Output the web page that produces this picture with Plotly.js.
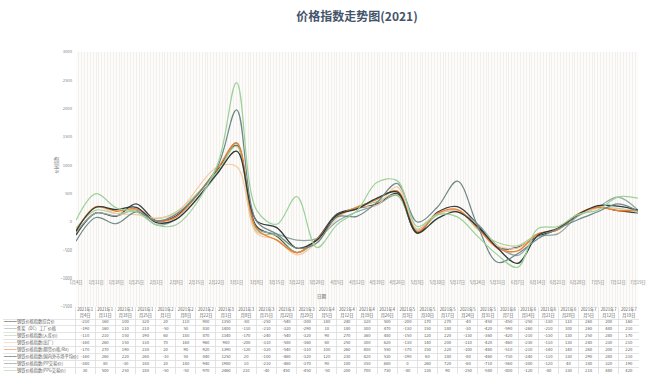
<!DOCTYPE html>
<html><head><meta charset="utf-8">
<script src="https://cdn.plot.ly/plotly-3.0.1.min.js"></script>
<style>html,body{margin:0;padding:0;background:#fff}#chart{width:650px;height:391px}</style>
</head><body><div id="chart"></div>
<script>
// ---------- data ----------
const dates = ['2021-01-04','2021-01-11','2021-01-18','2021-01-25','2021-02-01','2021-02-08','2021-02-22','2021-03-01','2021-03-08','2021-03-15','2021-03-22','2021-03-29','2021-04-05','2021-04-12','2021-04-19','2021-04-26','2021-05-03','2021-05-10','2021-05-17','2021-05-24','2021-05-31','2021-06-07','2021-06-14','2021-06-21','2021-06-28','2021-07-05','2021-07-12','2021-07-19'];
const seriesNames = ['钢铁价格指数综合价','焦炭（DC）工厂价格','钢铁价格指数(入库价)','钢铁价格指数(出厂)','钢铁价格指数(期货价格/Ru)','钢铁价格指数(国内外市场平均价)','钢铁价格指数(PP交易价)','钢铁价格指数(PPG交易价)'];
const s1 = [-230,160,100,320,20,110,900,1350,-80,-250,-540,-300,140,240,320,500,-200,170,270,-40,-450,-450,-250,-130,110,260,200,160];
const s2 = [-190,160,110,210,-50,50,830,1400,-110,-210,-320,-290,10,180,300,470,-130,150,180,-30,-420,-590,-260,-210,100,260,440,210];
const s3 = [-110,210,150,190,60,180,870,1340,-170,-240,-540,-320,90,270,360,480,-150,120,220,-130,-360,-420,-210,-130,130,250,240,170];
const s4 = [-160,260,150,130,70,160,960,980,-200,-310,-580,-360,60,250,300,620,-130,140,200,-110,-420,-460,-230,-110,130,240,230,210];
const s5 = [-170,270,190,230,20,90,920,1390,-120,-320,-540,-310,100,260,400,550,-170,150,220,-100,-460,-510,-210,-140,140,260,200,220];
const s6 = [-160,260,220,260,-10,50,840,1250,20,-100,-460,-320,120,230,420,530,-190,60,180,-80,-460,-730,-240,-110,130,290,280,210];
const s7 = [-340,80,-30,180,20,140,940,1980,10,-210,-460,-370,90,100,350,680,0,260,720,-60,-710,-560,-300,-120,40,180,320,190];
const s8 = [30,500,250,180,-50,-50,970,2460,210,-40,450,-450,-50,200,700,730,-80,130,90,-250,-580,-800,-120,-80,130,210,440,420];
const allSeries = [s1,s2,s3,s4,s5,s6,s7,s8];

// ---------- styles ----------
const colors = ['#404040','#8ea7a3','#a9d18e','#f4c9a4','#ed7d31','#2e3b39','#6d8988','#9dd19a'];
const widths = [1.3,1.2,1.1,1.1,1.3,1.3,1.2,1.2];
const W = 650, H = 391;
const FONT = '"Noto Sans CJK SC", "Noto Sans", sans-serif';
const px = v => v / W, py = v => 1 - v / H;

const traces = [];
allSeries.forEach((s, i) => {
  traces.push({
    type: 'scatter', mode: 'lines', x: dates, y: s, name: seriesNames[i],
    line: {color: colors[i], width: widths[i], shape: 'spline', smoothing: 1},
    xaxis: 'x', yaxis: 'y', hoverinfo: 'skip'
  });
});

// ---------- data table (subplot x2/y2, pixel-like units) ----------
const firstColW = 72, colW = 20.14, headH = 12, rowH = 6.9;
const xEdges = [0, firstColW];
dates.forEach(() => xEdges.push(xEdges[xEdges.length - 1] + colW));
const yEdges = [0, headH];
allSeries.forEach(() => yEdges.push(yEdges[yEdges.length - 1] + rowH));
const colCenters = dates.map((d, i) => (xEdges[i + 1] + xEdges[i + 2]) / 2);
const rowCenters = allSeries.map((s, r) => (yEdges[r + 1] + yEdges[r + 2]) / 2);
const headerLabels = dates.map(d => {
  const p = d.split('-');
  const full = p[0] + '年' + (+p[1]) + '月' + (+p[2]) + '日';
  return full.slice(0, 6) + '<br>' + full.slice(6);
});
const tfont = {family: FONT, size: 4.2, color: '#595959'};
traces.push({
  type: 'scatter', mode: 'text', x: colCenters, y: colCenters.map(() => headH / 2),
  text: headerLabels, textfont: tfont, xaxis: 'x2', yaxis: 'y2', hoverinfo: 'skip', cliponaxis: false
});
allSeries.forEach((s, r) => {
  traces.push({
    type: 'scatter', mode: 'text', x: colCenters, y: colCenters.map(() => rowCenters[r]),
    text: s.map(String), textfont: tfont, xaxis: 'x2', yaxis: 'y2', hoverinfo: 'skip', cliponaxis: false
  });
});
traces.push({
  type: 'scatter', mode: 'text', x: rowCenters.map(() => 1), y: rowCenters,
  text: rowCenters.map(() => '━━━'), textposition: 'middle right',
  textfont: {family: FONT, size: 4.2, color: colors}, xaxis: 'x2', yaxis: 'y2', hoverinfo: 'skip', cliponaxis: false
});
traces.push({
  type: 'scatter', mode: 'text', x: rowCenters.map(() => 14), y: rowCenters,
  text: seriesNames, textposition: 'middle right',
  textfont: tfont, xaxis: 'x2', yaxis: 'y2', hoverinfo: 'skip', cliponaxis: false
});

const layout = {
  width: W, height: H,
  margin: {l: 0, r: 0, t: 0, b: 0},
  paper_bgcolor: '#ffffff', plot_bgcolor: 'rgba(0,0,0,0)',
  showlegend: false, hovermode: false,
  font: {family: FONT, color: '#595959'},
  title: {text: '价格指数走势图(2021)', x: px(357), xanchor: 'center', y: py(16.5), yanchor: 'middle',
    yref: 'container', font: {family: FONT, size: 12, color: '#44546a', weight: 700}},
  xaxis: {
    type: 'date', domain: [px(76), px(638)], range: ['2021-01-04', '2021-07-19'],
    anchor: 'free', position: py(279),
    tick0: '2021-01-04', dtick: 7 * 86400000, tickformat: '%-m月%-d日',
    tickfont: {family: FONT, size: 4.2, color: '#7f7f7f'}, ticks: '', showline: false,
    showgrid: true, gridcolor: '#f2f0ec', gridwidth: 1,
    minor: {dtick: 86400000, showgrid: true, gridcolor: '#f2f0ec', gridwidth: 1},
    zeroline: false, automargin: false, fixedrange: true
  },
  yaxis: {
    domain: [py(307), py(52)], range: [-1500, 3000], dtick: 500,
    tickfont: {family: FONT, size: 4.2, color: '#7f7f7f'}, ticks: '', ticklabelstandoff: 3,
    showgrid: false, zeroline: false, showline: false, automargin: false, fixedrange: true
  },
  xaxis2: {
    domain: [px(3), px(3 + xEdges[xEdges.length - 1])], range: [0, xEdges[xEdges.length - 1]],
    anchor: 'y2', tickvals: xEdges, showticklabels: false, ticks: '',
    showgrid: true, gridcolor: '#d9d9d9', gridwidth: 0.7, zeroline: false, showline: false, fixedrange: true
  },
  yaxis2: {
    domain: [py(307 + yEdges[yEdges.length - 1]), py(307)], range: [yEdges[yEdges.length - 1], 0],
    anchor: 'x2', tickvals: yEdges, showticklabels: false, ticks: '',
    showgrid: true, gridcolor: '#d9d9d9', gridwidth: 0.7, zeroline: false, showline: false, fixedrange: true
  },
  shapes: [{type: 'rect', xref: 'x domain', yref: 'y domain', x0: 0, x1: 1, y0: 0, y1: 1,
    fillcolor: '#fdfcfb', line: {width: 0}, layer: 'below'}],
  annotations: [
    {text: '价格指数', textangle: -90, xref: 'paper', yref: 'paper', x: px(50), y: py(165),
      showarrow: false, font: {family: FONT, size: 4.2, color: '#7f7f7f'}},
    {text: '日期', xref: 'paper', yref: 'paper', x: px(322), y: py(302),
      showarrow: false, font: {family: FONT, size: 4.6, color: '#595959'}}
  ]
};

Plotly.newPlot('chart', traces, layout, {displayModeBar: false, staticPlot: true});
</script>
</body></html>
